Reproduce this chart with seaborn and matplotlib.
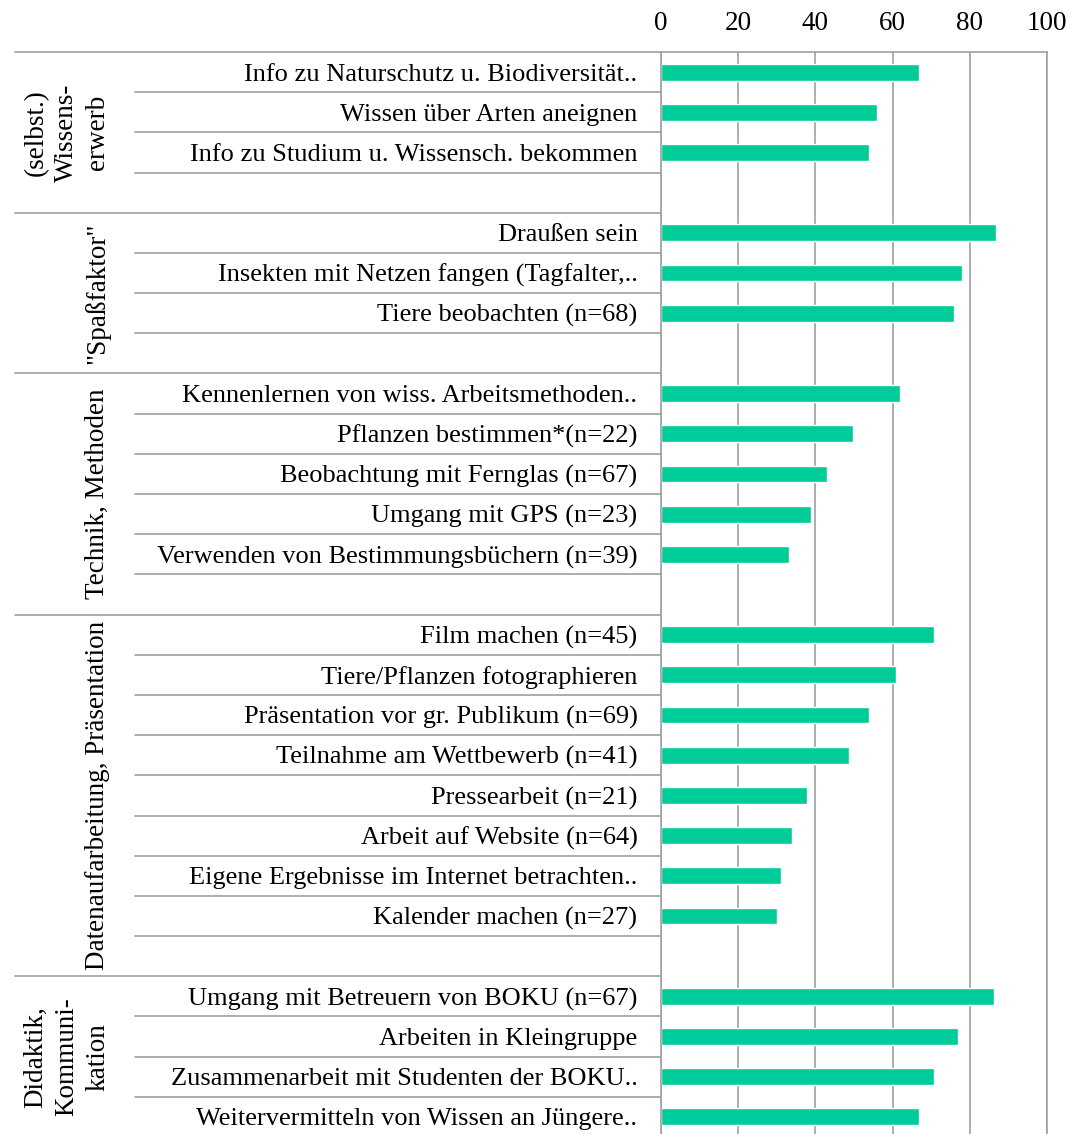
import numpy as np
import pandas as pd
import matplotlib
matplotlib.use("Agg")
import matplotlib.pyplot as plt
import matplotlib.transforms as mtransforms
import seaborn as sns

# rows from top to bottom, blank strings are the spacer rows between groups
labels = [
    "Info zu Naturschutz u. Biodiversität..",
    "Wissen über Arten aneignen",
    "Info zu Studium u. Wissensch. bekommen",
    " ",
    "Draußen sein",
    "Insekten mit Netzen fangen (Tagfalter,..",
    "Tiere beobachten (n=68)",
    "  ",
    "Kennenlernen von wiss. Arbeitsmethoden..",
    "Pflanzen bestimmen*(n=22)",
    "Beobachtung mit Fernglas (n=67)",
    "Umgang mit GPS (n=23)",
    "Verwenden von Bestimmungsbüchern (n=39)",
    "   ",
    "Film machen (n=45)",
    "Tiere/Pflanzen fotographieren",
    "Präsentation vor gr. Publikum (n=69)",
    "Teilnahme am Wettbewerb (n=41)",
    "Pressearbeit (n=21)",
    "Arbeit auf Website (n=64)",
    "Eigene Ergebnisse im Internet betrachten..",
    "Kalender machen (n=27)",
    "    ",
    "Umgang mit Betreuern von BOKU (n=67)",
    "Arbeiten in Kleingruppe",
    "Zusammenarbeit mit Studenten der BOKU..",
    "Weitervermitteln von Wissen an Jüngere..",
]
values = [
    66.8, 56.0, 53.9, np.nan,
    86.8, 78.0, 75.9, np.nan,
    61.9, 49.7, 43.0, 38.9, 33.2, np.nan,
    70.7, 60.9, 53.9, 48.7, 37.8, 33.9, 31.1, 30.1, np.nan,
    86.3, 76.9, 70.7, 66.8,
]
groups = [
    "(selbst.)\nWissens-\nerwerb",
    "\"Spaßfaktor\"",
    "Technik, Methoden",
    "Datenaufarbeitung, Präsentation",
    "Didaktik,\nKommuni-\nkation",
]
group_rows = [(0, 3), (4, 7), (8, 13), (14, 22), (23, 26)]  # first row, last row (incl. spacer)
x_ticks = [0, 20, 40, 60, 80, 100]

sns.set_style("white")
plt.rcParams["font.family"] = ["Liberation Serif", "DejaVu Serif"]
plt.rcParams["text.color"] = "black"
plt.rcParams["xtick.color"] = "black"
plt.rcParams["ytick.color"] = "black"

df = pd.DataFrame({"item": labels, "pct": values})

fig = plt.figure(figsize=(10.8, 11.34), dpi=100)
ax = fig.add_axes([661 / 1080, 1 - 1137 / 1134, 386 / 1080, 1085 / 1134])

sns.barplot(data=df, x="pct", y="item", order=labels, orient="h",
            color="#00CC99", saturation=1, width=0.42, ax=ax)

ax.set_xlim(0, 100)
ax.set_ylim(len(labels) - 0.5, -0.5)
ax.xaxis.tick_top()
ax.set_xticks(x_ticks)
ax.tick_params(axis="x", length=0, pad=11.5, labelsize=19.5)
ax.tick_params(axis="y", length=0, pad=17, labelsize=19)
ax.set_xlabel("")
ax.set_ylabel("")
ax.grid(axis="x", color="#A0A0A0", linewidth=1.2)
ax.set_axisbelow(True)
for side in ["left", "top", "right"]:
    ax.spines[side].set_visible(True)
    ax.spines[side].set_color("#A0A0A0")
    ax.spines[side].set_linewidth(1.2)
ax.spines["bottom"].set_visible(False)

# row separators and group separators in the label area
trans = mtransforms.blended_transform_factory(ax.transAxes, ax.transData)
x_rows = (135 - 661) / 386
x_groups = (15 - 661) / 386
group_ends = [g[1] for g in group_rows]
ax.plot([x_groups, 0], [-0.5, -0.5], color="#A0A0A0", lw=1.2, transform=trans, clip_on=False)
for i in range(len(labels) - 1):
    x0 = x_groups if i in group_ends else x_rows
    ax.plot([x0, 0], [i + 0.5, i + 0.5], color="#A0A0A0", lw=1.2, transform=trans, clip_on=False)

# rotated group names
for name, (a, b) in zip(groups, group_rows):
    ax.text((110 - 661) / 386, (a + b) / 2, name, transform=trans, rotation=90,
            ha="right", va="center", multialignment="center", fontsize=19.5,
            linespacing=1.3)

fig.savefig("out.png", dpi=100)
